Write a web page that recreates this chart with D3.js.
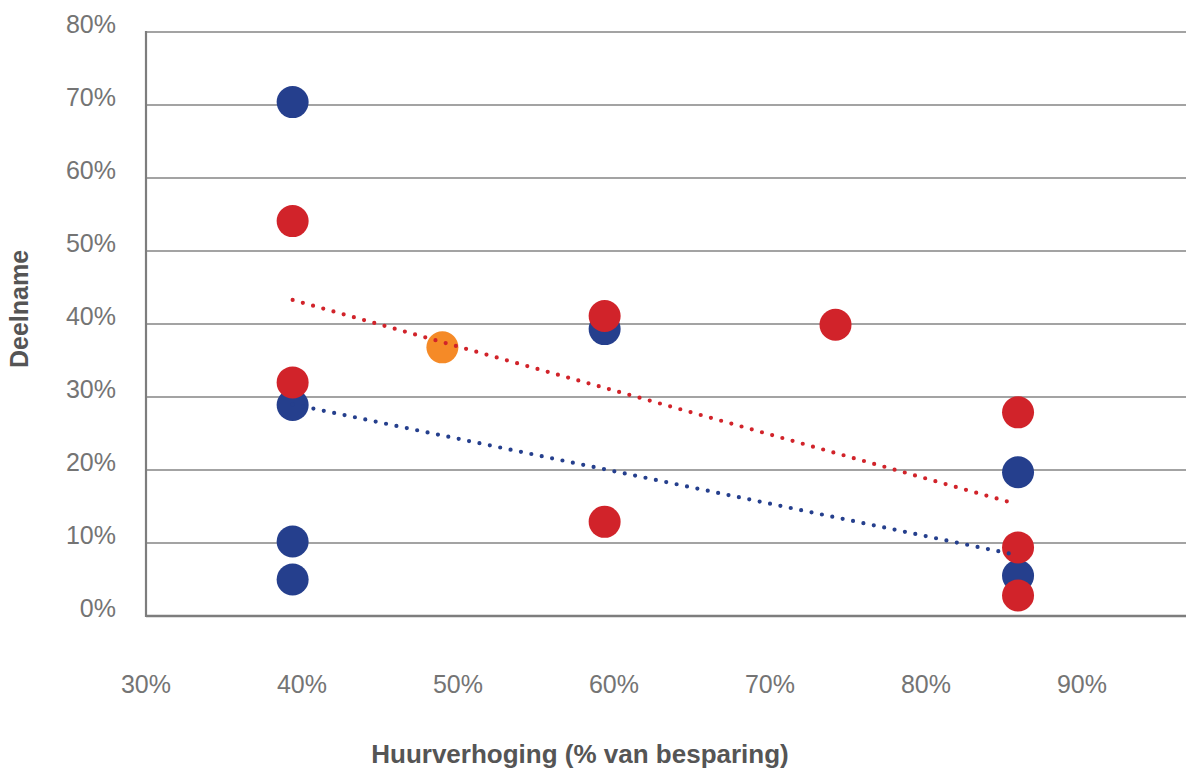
<!DOCTYPE html>
<html>
<head>
<meta charset="utf-8">
<script src="https://cdn.jsdelivr.net/npm/d3@7"></script>
<style>
  body { margin: 0; background: #fff; }
  text { font-family: "Liberation Sans", Helvetica, Arial, sans-serif; }
</style>
</head>
<body>
<div id="chart"></div>
<script>
// chart data (percentages)
var xTicks = [30, 40, 50, 60, 70, 80, 90];
var yTicks = [0, 10, 20, 30, 40, 50, 60, 70, 80];

// blue series
var blueX = [39.4, 39.4, 39.4, 39.4, 59.4, 85.9, 85.9];
var blueY = [70.4, 28.9, 10.2, 5.0, 39.3, 19.7, 5.5];

// red series
var redX = [39.4, 39.4, 59.4, 59.4, 74.2, 85.9, 85.9, 85.9];
var redY = [54.1, 32.0, 41.1, 12.9, 39.9, 27.9, 9.4, 2.8];

// orange point
var orangeX = [49.0];
var orangeY = [36.8];

// trend lines (start and end)
var redTrendX = [39.4, 85.7];
var redTrendY = [43.3, 15.4];
var blueTrendX = [39.4, 85.7];
var blueTrendY = [29.0, 8.4];

var xTitle = "Huurverhoging (% van besparing)";
var yTitle = "Deelname";

// set the dimensions of the graph
var setWidth = 1186;
var setHeight = 769;
var plotLeft = 146, plotTop = 32, plotBottom = 616;

var svg = d3.select("#chart")
    .append("svg")
    .attr("width", setWidth)
    .attr("height", setHeight);

var x = d3.scaleLinear().domain([30, 90]).range([plotLeft, 1082]);
var y = d3.scaleLinear().domain([0, 80]).range([plotBottom, plotTop]);

// gridlines
svg.append("g").selectAll("line")
    .data(yTicks.filter(function (d) { return d > 0; }))
    .join("line")
    .attr("x1", plotLeft)
    .attr("x2", setWidth)
    .attr("y1", function (d) { return y(d); })
    .attr("y2", function (d) { return y(d); })
    .attr("stroke", "#a3a3a3")
    .attr("stroke-width", 2.2);

// axis lines
svg.append("line")
    .attr("x1", plotLeft).attr("x2", setWidth)
    .attr("y1", y(0)).attr("y2", y(0))
    .attr("stroke", "#7d7d7d").attr("stroke-width", 2.5);
svg.append("line")
    .attr("x1", plotLeft).attr("x2", plotLeft)
    .attr("y1", y(80) - 1).attr("y2", y(0) + 1)
    .attr("stroke", "#7d7d7d").attr("stroke-width", 2.2);

// y tick labels
svg.append("g").selectAll("text")
    .data(yTicks)
    .join("text")
    .attr("x", 116)
    .attr("y", function (d) { return y(d) + 1; })
    .attr("text-anchor", "end")
    .attr("font-size", 25)
    .attr("fill", "#747474")
    .text(function (d) { return d + "%"; });

// x tick labels
svg.append("g").selectAll("text")
    .data(xTicks)
    .join("text")
    .attr("x", function (d) { return x(d); })
    .attr("y", 693)
    .attr("text-anchor", "middle")
    .attr("font-size", 25)
    .attr("fill", "#747474")
    .text(function (d) { return d + "%"; });

// axis titles
svg.append("text")
    .attr("x", 580)
    .attr("y", 763)
    .attr("text-anchor", "middle")
    .attr("font-size", 26)
    .attr("font-weight", "bold")
    .attr("fill", "#555555")
    .text(xTitle);

svg.append("text")
    .attr("transform", "translate(28,309) rotate(-90)")
    .attr("text-anchor", "middle")
    .attr("font-size", 25)
    .attr("font-weight", "bold")
    .attr("fill", "#555555")
    .text(yTitle);

// points
function drawPoints(xs, ys, colour) {
    svg.append("g").selectAll("circle")
        .data(d3.zip(xs, ys))
        .join("circle")
        .attr("cx", function (d) { return x(d[0]); })
        .attr("cy", function (d) { return y(d[1]); })
        .attr("r", 16)
        .style("fill", colour);
}
drawPoints(blueX, blueY, "#253f8d");
drawPoints(redX, redY, "#d1232a");
drawPoints(orangeX, orangeY, "#f58a27");

// dotted trend lines
function drawTrend(xs, ys, colour) {
    svg.append("path")
        .datum(d3.zip(xs, ys))
        .attr("d", d3.line()
            .x(function (d) { return x(d[0]); })
            .y(function (d) { return y(d[1]); }))
        .attr("fill", "none")
        .attr("stroke", colour)
        .attr("stroke-width", 4.2)
        .attr("stroke-linecap", "round")
        .attr("stroke-dasharray", "0 10.6");
}
drawTrend(redTrendX, redTrendY, "#d1232a");
drawTrend(blueTrendX, blueTrendY, "#253f8d");
</script>
</body>
</html>
